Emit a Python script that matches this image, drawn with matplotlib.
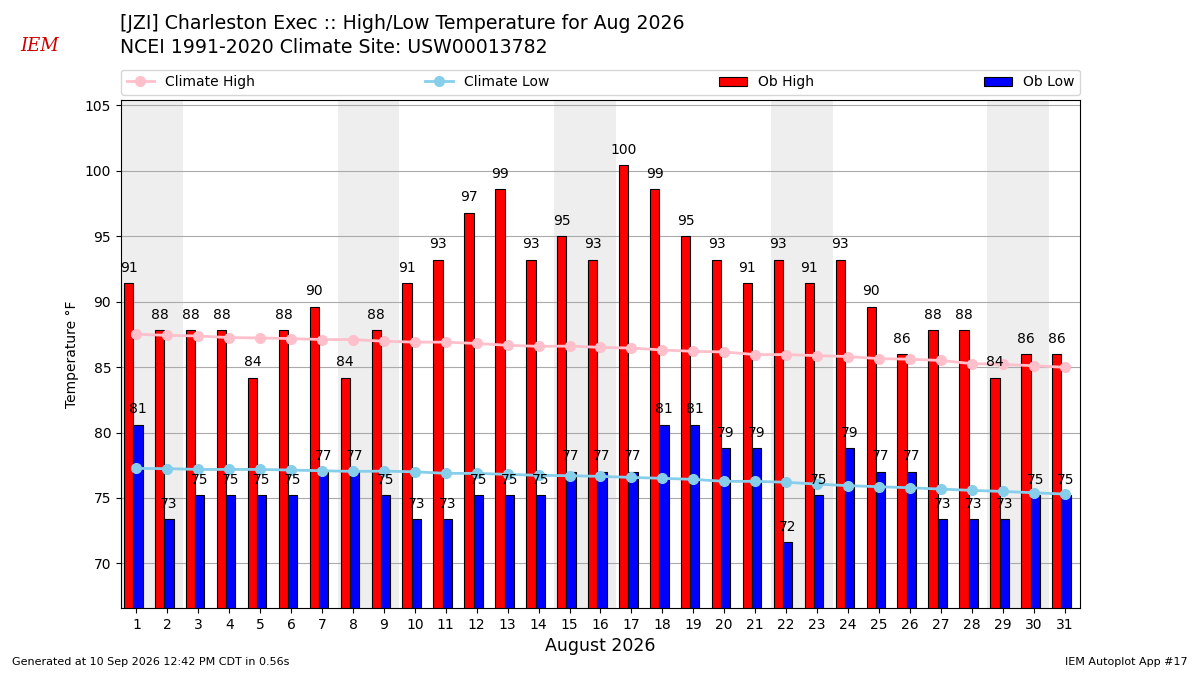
import matplotlib
matplotlib.use("Agg")
import matplotlib.pyplot as plt
import numpy as np

days = list(range(1, 32))
ob_high = [91.4, 87.8, 87.8, 87.8, 84.2, 87.8, 89.6, 84.2, 87.8, 91.4,
           93.2, 96.8, 98.6, 93.2, 95.0, 93.2, 100.4, 98.6, 95.0, 93.2,
           91.4, 93.2, 91.4, 93.2, 89.6, 86.0, 87.8, 87.8, 84.2, 86.0, 86.0]
ob_low = [80.6, 73.4, 75.2, 75.2, 75.2, 75.2, 77.0, 77.0, 75.2, 73.4,
          73.4, 75.2, 75.2, 75.2, 77.0, 77.0, 77.0, 80.6, 80.6, 78.8,
          78.8, 71.6, 75.2, 78.8, 77.0, 77.0, 73.4, 73.4, 73.4, 75.2, 75.2]
clim_high = [87.5, 87.42, 87.37, 87.25, 87.22, 87.17, 87.1, 87.1, 86.97, 86.9,
             86.9, 86.8, 86.66, 86.58, 86.6, 86.5, 86.45, 86.3, 86.2, 86.15,
             85.95, 85.95, 85.87, 85.8, 85.64, 85.6, 85.5, 85.26, 85.2, 85.1, 84.98]
clim_low = [77.26, 77.24, 77.18, 77.18, 77.18, 77.13, 77.08, 77.03, 77.05, 77.0,
            76.88, 76.88, 76.8, 76.73, 76.7, 76.65, 76.57, 76.5, 76.42, 76.27,
            76.27, 76.2, 76.06, 75.94, 75.86, 75.78, 75.68, 75.58, 75.5, 75.4, 75.3]
weekend_days = [1, 2, 8, 9, 15, 16, 22, 23, 29, 30]
yticks = [70, 75, 80, 85, 90, 95, 100, 105]

fig = plt.figure(figsize=(12, 6.75), dpi=100)
ax = fig.add_axes([0.1008, 0.0993, 0.7992, 0.7527])

x = np.array(days)
for d in weekend_days:
    ax.axvspan(d - 0.5, d + 0.5, color="#eeeeee", zorder=0, lw=0)

ax.bar(x - 0.25, ob_high, width=0.3, color="red", edgecolor="black", lw=0.8,
       label="Ob High", zorder=2)
ax.bar(x + 0.05, ob_low, width=0.3, color="blue", edgecolor="black", lw=0.8,
       label="Ob Low", zorder=2)
ax.plot(x, clim_high, color="pink", marker="o", ms=7, lw=2, label="Climate High", zorder=3)
ax.plot(x, clim_low, color="skyblue", marker="o", ms=7, lw=2, label="Climate Low", zorder=3)

for xi, v in zip(x, ob_high):
    ax.annotate(f"{v:.0f}", (xi - 0.25, v), xytext=(0, 6), textcoords="offset points",
                ha="center", va="bottom", fontsize=10, zorder=4)
for xi, v in zip(x, ob_low):
    ax.annotate(f"{v:.0f}", (xi + 0.05, v), xytext=(0, 6), textcoords="offset points",
                ha="center", va="bottom", fontsize=10, zorder=4)

ax.set_xlim(0.5, 31.5)
ax.set_ylim(min(ob_low) - 5, max(ob_high) + 5)
ax.set_xticks(days)
ax.set_yticks(yticks)
ax.tick_params(labelsize=10)
ax.yaxis.grid(True, color="#aaaaaa", lw=0.8, zorder=1)
ax.set_axisbelow(True)
ax.set_xlabel("August 2026", fontsize=12.5)
ax.set_ylabel("Temperature °F", fontsize=10)

h, l = ax.get_legend_handles_labels()
order = [l.index(n) for n in ["Climate High", "Climate Low", "Ob High", "Ob Low"]]
ax.legend([h[i] for i in order], [l[i] for i in order], loc="lower left",
          bbox_to_anchor=(0, 1.01, 1, 0.05), mode="expand", ncol=4, borderaxespad=0,
          fontsize=10)

fig.text(0.1, 0.965, "[JZI] Charleston Exec :: High/Low Temperature for Aug 2026",
         fontsize=13.6, va="center", ha="left")
fig.text(0.1, 0.929, "NCEI 1991-2020 Climate Site: USW00013782",
         fontsize=13.6, va="center", ha="left")
fig.text(0.017, 0.932, "IEM", fontsize=13, color="#cc0000", family="serif",
         style="italic", va="center", ha="left")
fig.text(0.01, 0.012, "Generated at 10 Sep 2026 12:42 PM CDT in 0.56s", fontsize=8,
         ha="left", va="bottom")
fig.text(0.99, 0.012, "IEM Autoplot App #17", fontsize=8, ha="right", va="bottom")

fig.savefig("out.png", dpi=100)
